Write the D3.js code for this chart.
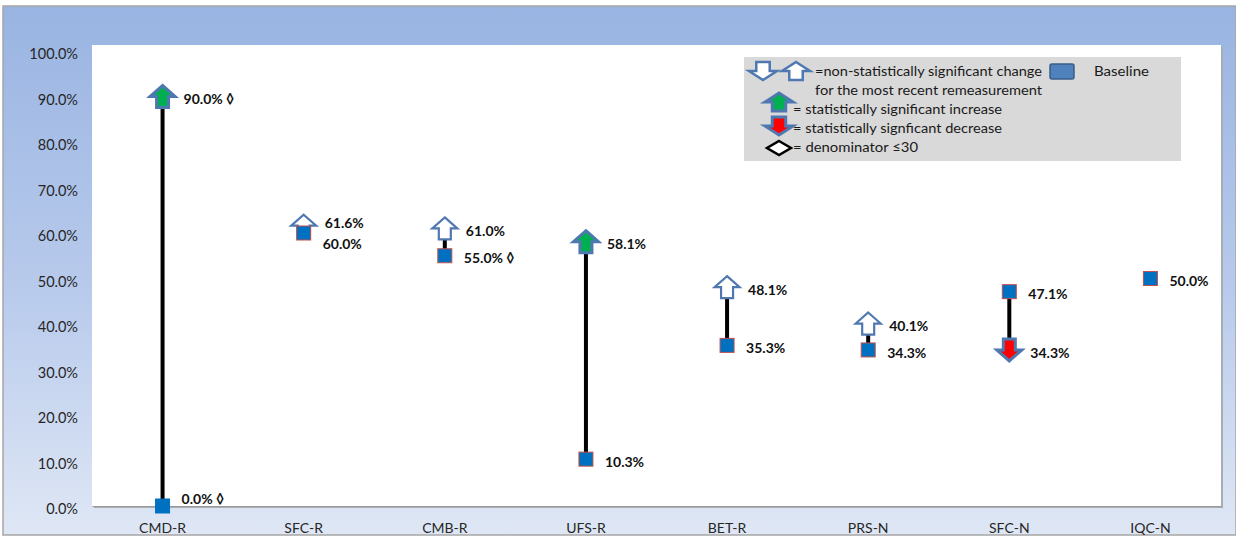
<!DOCTYPE html>
<html>
<head>
<meta charset="utf-8">
<script src="https://cdn.jsdelivr.net/npm/d3@7"></script>
<style>
  body { margin: 0; background: #ffffff; }
  svg { display: block; font-family: Lato, "Open Sans", "DejaVu Sans", sans-serif; }
</style>
</head>
<body>
<script>
// DATA
const categories = ["CMD-R", "SFC-R", "CMB-R", "UFS-R", "BET-R", "PRS-N", "SFC-N", "IQC-N"];
const baseline   = [0.0, 60.0, 55.0, 10.3, 35.3, 34.3, 47.1, 50.0];
const remeasure  = [90.0, 61.6, 61.0, 58.1, 48.1, 40.1, 34.3, null];
// "up" / "down" = not significant, "upSig" / "downSig" = significant
const change     = ["upSig", "up", "up", "upSig", "up", "up", "downSig", null];
const smallBase  = [true, false, true, false, false, false, false, false];
const smallRem   = [true, false, false, false, false, false, false, false];
const yTicks     = [0, 10, 20, 30, 40, 50, 60, 70, 80, 90, 100];

// SIZES
const W = 1236, H = 537;
const plot = {left: 92, top: 45, right: 1221, bottom: 506};

const svg = d3.select("body").append("svg")
  .attr("width", W)
  .attr("height", H);

const defs = svg.append("defs");
const bg = defs.append("linearGradient")
  .attr("id", "bg").attr("x1", 0).attr("y1", 0).attr("x2", 0).attr("y2", 1);
bg.append("stop").attr("offset", "0%").attr("stop-color", "#99b4e2");
bg.append("stop").attr("offset", "55%").attr("stop-color", "#b9cbec");
bg.append("stop").attr("offset", "100%").attr("stop-color", "#dfe7f5");

// CHART AREA
svg.append("rect")
  .attr("x", 3).attr("y", 6)
  .attr("width", W - 3).attr("height", H - 8)
  .attr("fill", "url(#bg)")
  .attr("stroke", "#a6a6a6")
  .attr("stroke-width", 1.5);

// PLOT AREA (with a soft shadow)
svg.append("rect")
  .attr("x", plot.left + 2).attr("y", plot.top + 2)
  .attr("width", plot.right - plot.left).attr("height", plot.bottom - plot.top)
  .attr("fill", "#a8acb3");
svg.append("rect")
  .attr("x", plot.left).attr("y", plot.top)
  .attr("width", plot.right - plot.left).attr("height", plot.bottom - plot.top)
  .attr("fill", "#ffffff");

// SCALES
const x = d3.scaleBand()
  .domain(categories)
  .range([plot.left, plot.right]);
const y = d3.scaleLinear()
  .domain([0, 100])
  .range([plot.bottom, 51]);

// Y AXIS
const yAxis = svg.append("g")
  .attr("transform", `translate(${plot.left},0)`)
  .call(d3.axisLeft(y).tickValues(yTicks).tickSize(0).tickPadding(14)
    .tickFormat(d => d.toFixed(1) + "%"));
yAxis.select(".domain").remove();
yAxis.selectAll("text")
  .attr("font-family", "Lato, 'Open Sans', sans-serif")
  .attr("dy", "0.52em")
  .style("font-size", "14.5px")
  .attr("fill", "#262626");

// X AXIS
const xAxis = svg.append("g")
  .attr("transform", `translate(0,${plot.bottom})`)
  .call(d3.axisBottom(x).tickSize(0).tickPadding(17));
xAxis.select(".domain").attr("stroke", "#9a9a9a").attr("stroke-width", 1);
xAxis.selectAll("text")
  .attr("font-family", "Lato, 'Open Sans', sans-serif")
  .style("font-size", "14px")
  .attr("fill", "#262626");

// ARROW SHAPE
function arrowPath(w, h, dir) {
  const hh = h * 0.5, sw = w * 0.48, s = dir === "down" ? -1 : 1;
  const pts = [
    [0, -h / 2], [w / 2, -h / 2 + hh], [sw / 2, -h / 2 + hh], [sw / 2, h / 2],
    [-sw / 2, h / 2], [-sw / 2, -h / 2 + hh], [-w / 2, -h / 2 + hh]
  ];
  return "M" + pts.map(p => p[0] + "," + (p[1] * s)).join("L") + "Z";
}
function arrowFill(kind) {
  if (kind === "upSig") return "#00b050";
  if (kind === "downSig") return "#ff0000";
  return "#ffffff";
}
function arrowDir(kind) {
  return kind.startsWith("down") ? "down" : "up";
}

const idx = d3.range(categories.length);

// CONNECTING LINES
svg.append("g").selectAll("line")
  .data(idx.filter(i => remeasure[i] != null))
  .join("line")
  .attr("x1", i => x(categories[i]) + x.bandwidth() / 2)
  .attr("x2", i => x(categories[i]) + x.bandwidth() / 2)
  .attr("y1", i => y(baseline[i]))
  .attr("y2", i => y(remeasure[i]))
  .attr("stroke", "#000000")
  .attr("stroke-width", 4);

// REMEASUREMENT ARROWS
svg.append("g").selectAll("path")
  .data(idx.filter(i => remeasure[i] != null))
  .join("path")
  .attr("transform", i => `translate(${x(categories[i]) + x.bandwidth() / 2},${y(remeasure[i])})`)
  .attr("d", i => arrowPath(25, 22, arrowDir(change[i])))
  .attr("fill", i => arrowFill(change[i]))
  .attr("stroke", "#4f78b0")
  .attr("stroke-width", i => change[i].endsWith("Sig") ? 3 : 2.2)
  .attr("stroke-linejoin", "miter");

// BASELINE SQUARES
svg.append("g").selectAll("rect")
  .data(idx)
  .join("rect")
  .attr("x", i => x(categories[i]) + x.bandwidth() / 2 - 7)
  .attr("y", i => y(baseline[i]) - 7)
  .attr("width", 14)
  .attr("height", 14)
  .attr("fill", "#0070c0")
  .attr("stroke", i => baseline[i] === 0 ? "#0070c0" : "#c0504d")
  .attr("stroke-width", 1);

// DATA LABELS
function close(i) {
  return remeasure[i] != null && Math.abs(remeasure[i] - baseline[i]) < 3;
}
const labels = svg.append("g")
  .attr("font-weight", "bold")
  .style("font-size", "14px")
  .attr("fill", "#111111");

labels.selectAll("text.base")
  .data(idx)
  .join("text")
  .attr("class", "base")
  .attr("x", i => x(categories[i]) + x.bandwidth() / 2 + 19)
  .attr("y", i => Math.min(y(baseline[i]) + (close(i) ? 12 : 4), plot.bottom - 6))
  .attr("dominant-baseline", "middle")
  .text(i => baseline[i].toFixed(1) + "%" + (smallBase[i] ? " \u25CA" : ""));

labels.selectAll("text.rem")
  .data(idx.filter(i => remeasure[i] != null))
  .join("text")
  .attr("class", "rem")
  .attr("x", i => x(categories[i]) + x.bandwidth() / 2 + 21)
  .attr("y", i => y(remeasure[i]) + (close(i) ? -1 : 4))
  .attr("dominant-baseline", "middle")
  .text(i => remeasure[i].toFixed(1) + "%" + (smallRem[i] ? " \u25CA" : ""));

// LEGEND
const legend = svg.append("g").attr("transform", "translate(744,57)");
legend.append("rect")
  .attr("width", 437).attr("height", 104)
  .attr("fill", "#d9d9d9");

legend.append("path")
  .attr("transform", "translate(19,14)")
  .attr("d", arrowPath(28, 18, "down"))
  .attr("fill", "#ffffff").attr("stroke", "#4f78b0").attr("stroke-width", 2.5);
legend.append("path")
  .attr("transform", "translate(52,14)")
  .attr("d", arrowPath(28, 18, "up"))
  .attr("fill", "#ffffff").attr("stroke", "#4f78b0").attr("stroke-width", 2.5);
legend.append("path")
  .attr("transform", "translate(35,45)")
  .attr("d", arrowPath(28, 18, "up"))
  .attr("fill", "#00b050").attr("stroke", "#4f78b0").attr("stroke-width", 3);
legend.append("path")
  .attr("transform", "translate(35,69)")
  .attr("d", arrowPath(28, 18, "down"))
  .attr("fill", "#ff0000").attr("stroke", "#4f78b0").attr("stroke-width", 3);
legend.append("path")
  .attr("transform", "translate(35,91)")
  .attr("d", "M0,-7L12,0L0,7L-12,0Z")
  .attr("fill", "#ffffff").attr("stroke", "#000000").attr("stroke-width", 2.5);
legend.append("rect")
  .attr("x", 306).attr("y", 7).attr("width", 24).attr("height", 15).attr("rx", 2)
  .attr("fill", "#4f81bd").attr("stroke", "#385d8a").attr("stroke-width", 1.5);

const legendText = [
  {t: "=non-statistically significant change", x: 71, y: 16, len: 227},
  {t: "for the most recent remeasurement", x: 71, y: 35, len: 227},
  {t: "= statistically significant increase", x: 49, y: 54, len: 209},
  {t: "= statistically signficant decrease", x: 49, y: 73, len: 209},
  {t: "= denominator \u226430", x: 49, y: 92, len: 125},
  {t: "Baseline", x: 350, y: 16, len: 55}
];
legend.selectAll("text")
  .data(legendText)
  .join("text")
  .attr("x", d => d.x)
  .attr("y", d => d.y)
  .attr("dominant-baseline", "middle")
  .style("font-size", "13.5px")
  .attr("fill", "#1a1a1a")
  .attr("textLength", d => d.len)
  .attr("lengthAdjust", "spacingAndGlyphs")
  .text(d => d.t);
</script>
</body>
</html>
